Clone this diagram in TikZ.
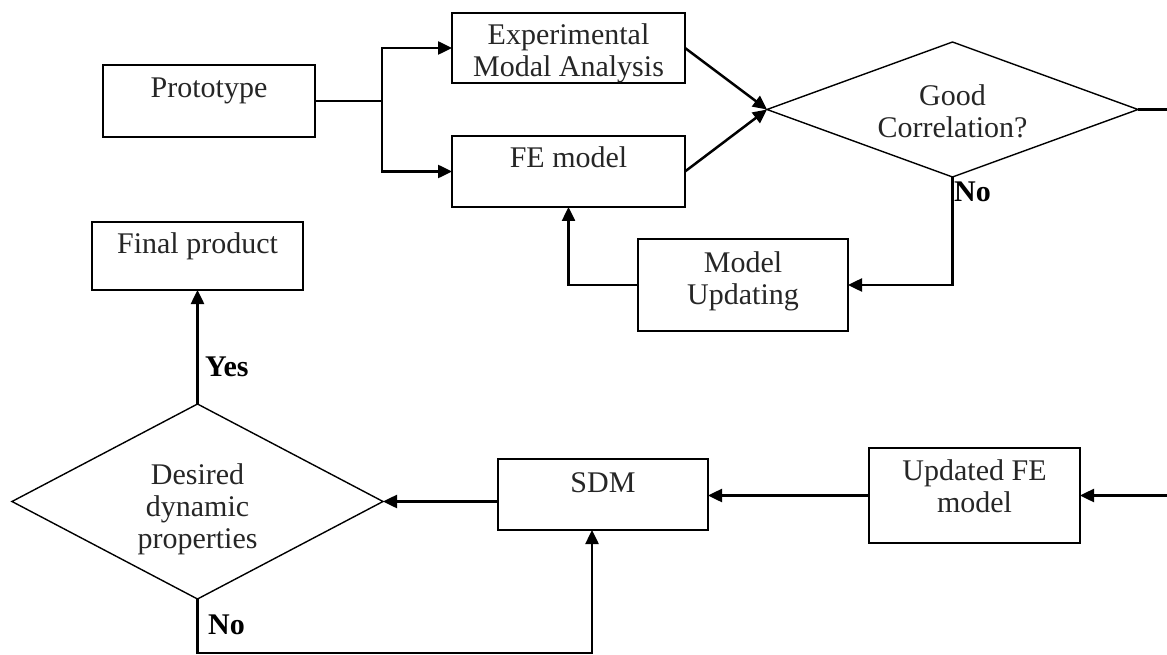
\documentclass[tikz,border=0pt]{standalone}
\usepackage{fontspec}
\setmainfont{Liberation Serif}
\usetikzlibrary{arrows.meta,shapes.geometric}
\begin{document}
\begin{tikzpicture}[x=1pt,y=-1pt,
  txt/.style={font=\fontsize{30}{32}\selectfont, text=black!85},
  box/.style={txt, draw, line width=1.8pt, inner sep=0pt, outer sep=0pt, align=center},
  decision/.style={txt, draw, diamond, line width=1.4pt, inner sep=0pt, outer sep=0pt, align=center},
  lab/.style={font=\fontsize{30}{32}\selectfont\bfseries, inner sep=0pt},
  conn/.style={line width=2.5pt},
  arrow/.style={line width=2.5pt, -{Triangle[length=14pt,width=13pt]}}
]
\useasboundingbox (0,0) rectangle (1167,655);

% process boxes
\node[box, minimum width=212pt, text height=33pt, text depth=39pt] (proto) at (209,101) {Prototype};
\node[box, minimum width=233pt, text height=64pt, text depth=6pt] (ema) at (568.5,48) {Experimental\\Modal Analysis};
\node[box, minimum width=233pt, text height=32pt, text depth=39pt] (fe) at (568.5,171.5) {FE model};
\node[box, minimum width=210pt, text height=65pt, text depth=27pt] (mu) at (743,285) {Model\\Updating};
\node[box, minimum width=211pt, text height=32pt, text depth=36pt] (fp) at (197.5,256) {Final product};
\node[box, minimum width=210pt, text height=33pt, text depth=38pt] (sdm) at (603,494.5) {SDM};
\node[box, minimum width=211pt, text height=64pt, text depth=31pt] (ufe) at (974.5,495.5) {Updated FE\\model};

% decisions
\node[decision, aspect=2.75, minimum width=371pt, minimum height=135pt, text height=60pt, text depth=3pt] (gc) at (952.5,109.5) {Good\\Correlation?};
\node[decision, aspect=1.9, minimum width=371pt, minimum height=195pt, text height=96pt, text depth=3pt] (ddp) at (197.5,501.5) {Desired\\dynamic\\properties};

% helper points
\coordinate (split) at (382,101);
\coordinate (outR) at (1167,109.5);
\coordinate (inR) at (1167,495.5);
\coordinate (loop) at (592,653);

% connectors
\draw[conn] (proto.east) -- (split);
\draw[arrow] (split) |- (ema.west);
\draw[arrow] (split) |- (fe.west);
\draw[arrow] (ema.east) -- (gc.west);
\draw[arrow] (fe.east) -- (gc.west);
\draw[conn] (gc.east) -- (outR);
\draw[arrow] (gc.south) |- (mu.east);
\draw[arrow] (mu.west) -| (fe.south);
\draw[arrow] (inR) -- (ufe.east);
\draw[arrow] (ufe.west) -- (ufe.west -| sdm.east);
\draw[arrow] (sdm.west |- ddp.east) -- (ddp.east);
\draw[arrow] (ddp.north) -- (fp.south);
\draw[arrow] (ddp.south) |- (loop) -- (loop |- sdm.south);

% branch labels
\node[lab, anchor=west] (no1) at (954,192) {No};
\node[lab, anchor=west] (yes) at (205,367) {Yes};
\node[lab, anchor=west] (no2) at (208,625) {No};
\end{tikzpicture}
\end{document}
